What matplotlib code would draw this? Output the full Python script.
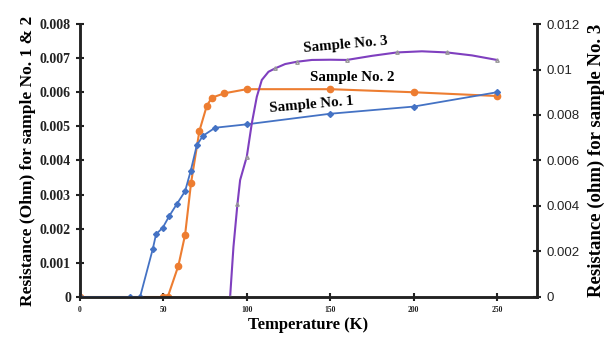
import matplotlib.pyplot as plt

# sample 1 (left axis)
t1 = [0, 30, 36, 43.6, 45.6, 49.6, 53.6, 58, 63, 66.4, 70, 73.6, 81, 100, 150, 200, 250]
r1 = [0, 0, 0, 0.0014, 0.00184, 0.00203, 0.00238, 0.00272, 0.0031, 0.0037, 0.00444,
      0.00472, 0.00496, 0.00506, 0.00537, 0.00558, 0.006]

# sample 2 (left axis)
t2 = [0, 50, 52.6, 59, 63, 66.6, 71.6, 76, 79, 86.6, 100, 150, 200, 250]
r2 = [0, 0, 0, 0.00092, 0.00182, 0.00335, 0.00487, 0.0056, 0.00584, 0.00597,
      0.00609, 0.00609, 0.006, 0.00589]

# sample 3 (right axis)
t3 = [90, 92, 94.4, 96, 100, 103, 106, 109, 113, 117, 123, 130, 139, 150, 160,
      175, 190, 205, 220, 235, 250]
r3 = [0, 0.0022, 0.00409, 0.00514, 0.00617, 0.00763, 0.0088, 0.00954, 0.0099, 0.01005,
      0.01024, 0.01034, 0.01042, 0.01043, 0.01042, 0.0106, 0.01075, 0.0108, 0.01075,
      0.01062, 0.01042]
mark3 = [0, 2, 4, 9, 11, 14, 16, 18, 20]

blue = '#4472C4'
orange = '#ED7D31'
purple = '#7F3FBF'
serif = 'Liberation Serif'

fig = plt.figure(figsize=(6.14, 3.4), dpi=100)
ax = fig.add_axes([0.1303, 0.1265, 0.7443, 0.8029])
ax2 = ax.twinx()

ax.plot(t1, r1, color=blue, lw=1.3, marker='D', ms=3, zorder=3)
ax.plot(t2, r2, color=orange, lw=1.5, marker='o', ms=4.5, zorder=2)
ax2.plot(t3, r3, color=purple, lw=1.5, marker='^', ms=2.5, mfc='none', mec='#999999',
         markevery=mark3)

ax.set_xlim(0, 274)
ax.set_ylim(0, 0.008)
ax2.set_ylim(0, 0.012)

ax.set_xticks([0, 50, 100, 150, 200, 250])
ax.set_yticks([0, 0.001, 0.002, 0.003, 0.004, 0.005, 0.006, 0.007, 0.008])
ax.set_yticklabels(['0', '0.001', '0.002', '0.003', '0.004', '0.005', '0.006', '0.007', '0.008'])
ax2.set_yticks([0, 0.002, 0.004, 0.006, 0.008, 0.01, 0.012])
ax2.set_yticklabels(['0', '0.002', '0.004', '0.006', '0.008', '0.01', '0.012'])

for a in (ax, ax2):
    a.spines['top'].set_visible(False)
    for s in ['left', 'right', 'bottom']:
        a.spines[s].set_linewidth(1.8)
        a.spines[s].set_color('#222222')
    a.tick_params(direction='inout', length=6, width=1.5, colors='#222222')

for lab in ax.get_yticklabels():
    lab.set_fontfamily(serif)
    lab.set_fontweight('bold')
    lab.set_fontsize(10)
for lab in ax.get_xticklabels():
    lab.set_fontfamily(serif)
    lab.set_fontweight('bold')
    lab.set_fontsize(5.5)
for lab in ax2.get_yticklabels():
    lab.set_fontsize(9.5)
    lab.set_fontfamily('Liberation Sans')

ax.set_xlabel('Temperature (K)', fontfamily=serif, fontweight='bold', fontsize=12, labelpad=2)
ax.set_ylabel('Resistance (Ohm) for sample No. 1 & 2', fontfamily=serif, fontweight='bold',
              fontsize=12.5, labelpad=3)
ax2.set_ylabel('Resistance (ohm) for sample No. 3', fontfamily=serif, fontweight='bold',
               fontsize=13.5, labelpad=6)

ax.text(159, 0.00739, 'Sample No. 3', fontfamily=serif, fontweight='bold', fontsize=10.8,
        rotation=5, ha='center', va='center')
ax.text(163, 0.00642, 'Sample No. 2', fontfamily=serif, fontweight='bold', fontsize=10.8,
        ha='center', va='center')
ax.text(139, 0.00563, 'Sample No. 1', fontfamily=serif, fontweight='bold', fontsize=10.8,
        rotation=5, ha='center', va='center')

fig.savefig('out.png', dpi=100)
